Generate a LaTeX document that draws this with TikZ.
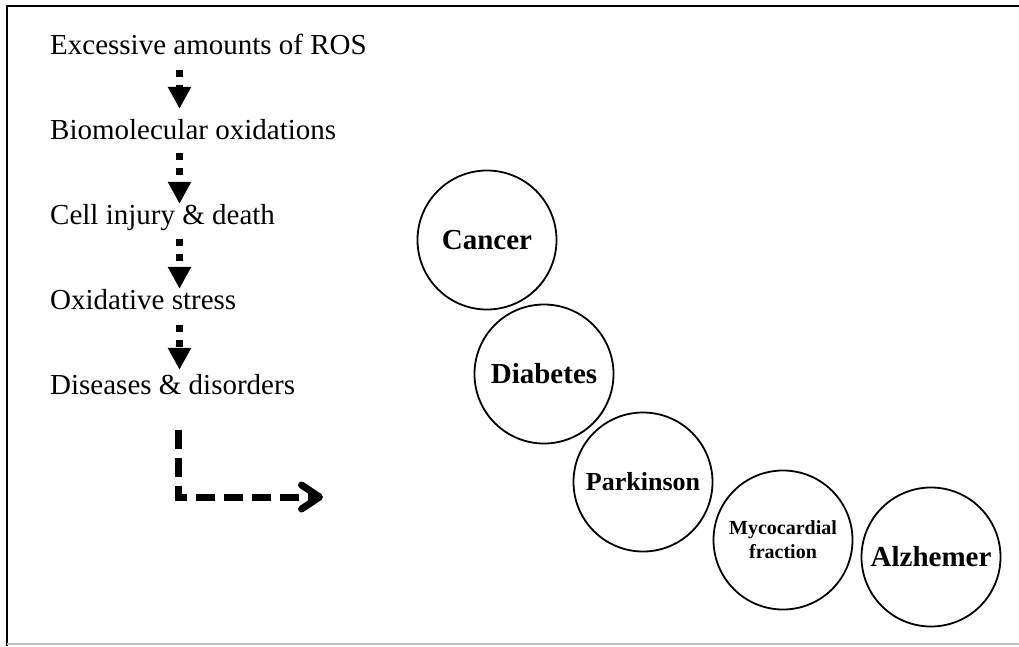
\documentclass[tikz,border=0pt]{standalone}
\usepackage{fontspec}
\setmainfont{Liberation Serif}
\usetikzlibrary{positioning, arrows.meta}
\tikzset {
    stage/.style={anchor=base west, inner sep=0pt, text height=21pt, text depth=7pt,
        font=\fontsize{29}{34}\selectfont},
    disease/.style={circle, draw, line width=1.8pt, minimum size=139pt, inner sep=0pt,
        align=center, font=\fontsize{29}{34}\selectfont\bfseries},
    flow/.style={line width=7pt, dash pattern=on 7pt off 8pt,
        -{Triangle[length=22pt,width=22pt]}},
    leads/.style={line width=7pt, dash pattern=on 19pt off 9pt,
        -{Straight Barb[length=18pt,width=24pt,round]}}
}

\begin{document}
\begin{tikzpicture}[x=1pt, y=-1pt]
    \useasboundingbox (0,0) rectangle (1019,646);
    % frame
    \draw[line width=2.5pt] (7,646) -- (7,6);
    \draw[line width=2pt] (6,6) -- (1019,6);
    \draw[black!25, line width=1.5pt] (7,644) -- (1019,644);

    % chain of events
    \node[stage] (ros) at (50,54) {Excessive amounts of ROS};
    \node[stage, below=85pt of ros.base west, anchor=base west] (bio) {Biomolecular oxidations};
    \node[stage, below=85pt of bio.base west, anchor=base west] (injury) {Cell injury \& death};
    \node[stage, below=85pt of injury.base west, anchor=base west] (stress) {Oxidative stress};
    \node[stage, below=85pt of stress.base west, anchor=base west] (dis) {Diseases \& disorders};
    \coordinate (ax) at (179.5,0);
    \coordinate (lx) at (178.5,0);
    \coordinate (goal) at (323,497);

    \draw[flow] ([yshift=-9pt]ros.south -| ax) -- ([yshift=9pt]bio.north -| ax);
    \draw[flow] ([yshift=-7pt]bio.south -| ax) -- ([yshift=-1pt]injury.north -| ax);
    \draw[flow] ([yshift=-8pt]injury.south -| ax) -- ([yshift=-1pt]stress.north -| ax);
    \draw[flow] ([yshift=-9pt]stress.south -| ax) -- ([yshift=3pt]dis.north -| ax);
    \draw[leads] ([yshift=-29pt]dis.south -| lx) |- (goal);

    % diseases
    \node[disease] (cancer) at (487,240) {Cancer};
    \node[disease] (diabetes) at (544,374) {Diabetes};
    \node[disease, font=\fontsize{26}{30}\selectfont\bfseries] (parkinson) at (643,482) {Parkinson};
    \node[disease, font=\fontsize{20}{24}\selectfont\bfseries] (myo) at (783,540) {Mycocardial\\fraction};
    \node[disease] (alz) at (931,557) {Alzhemer};
\end{tikzpicture}
\end{document}
